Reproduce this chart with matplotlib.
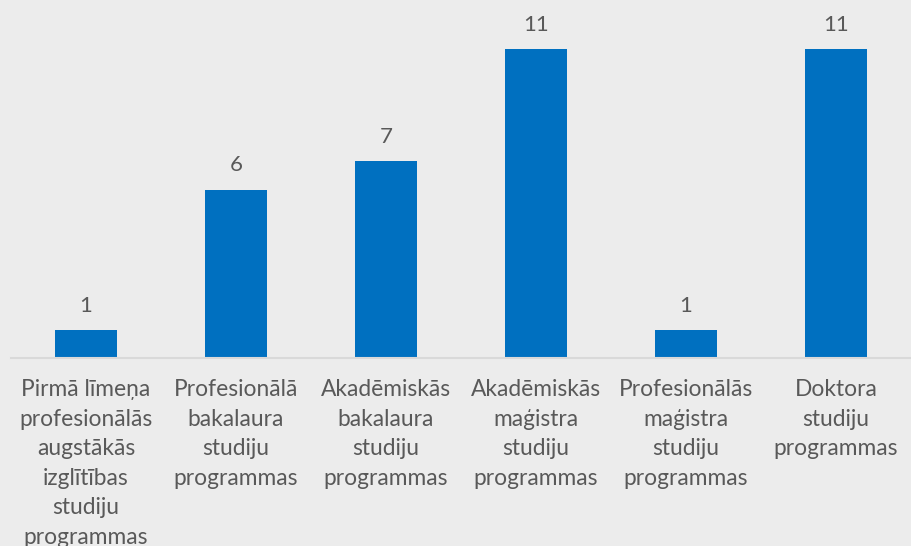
import matplotlib.pyplot as plt

categories = [
    'Pirmā līmeņa\nprofesionālās\naugstākās\nizglītības\nstudiju\nprogrammas',
    'Profesionālā\nbakalaura\nstudiju\nprogrammas',
    'Akadēmiskās\nbakalaura\nstudiju\nprogrammas',
    'Akadēmiskās\nmaģistra\nstudiju\nprogrammas',
    'Profesionālās\nmaģistra\nstudiju\nprogrammas',
    'Doktora\nstudiju\nprogrammas',
]
values = [1, 6, 7, 11, 1, 11]

bg = '#ececec'
text_col = '#595959'

fig = plt.figure(figsize=(9.11, 5.46), dpi=100, facecolor=bg)
# axes placed in pixel terms: left 11px, baseline at y=358, top at y=21
ax = fig.add_axes([11 / 911, (546 - 358) / 546, 900 / 911, 337 / 546], facecolor=bg)

x = range(len(values))
ax.bar(x, values, width=0.41, color='#0070c0')
ax.set_xlim(-0.5, 5.5)
ax.set_ylim(0, 12)

for i, v in enumerate(values):
    ax.text(i, v + 0.5, str(v), ha='center', va='bottom', fontsize=16,
            color=text_col, family='Lato')

for i, lab in enumerate(categories):
    ax.text(i, -0.75, lab, ha='center', va='top', fontsize=16.4, color=text_col,
            family='Lato', linespacing=1.5)

for s in ['top', 'right', 'left']:
    ax.spines[s].set_visible(False)
ax.spines['bottom'].set_color('#d9d9d9')
ax.spines['bottom'].set_linewidth(1.5)
ax.set_xticks([])
ax.set_yticks([])

fig.savefig('out.png', dpi=100, facecolor=bg)
